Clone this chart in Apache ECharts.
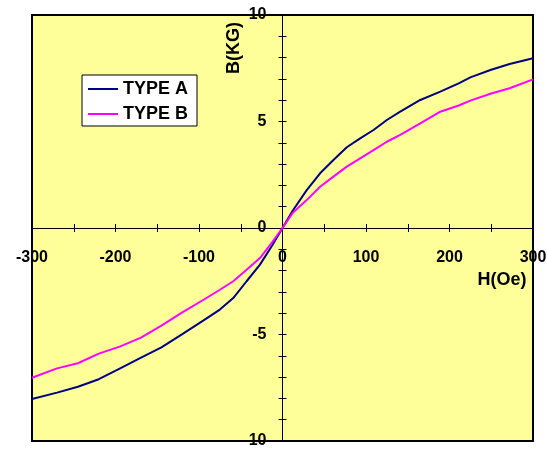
<!DOCTYPE html>
<html>
<head>
<meta charset="utf-8">
<script src="https://cdn.jsdelivr.net/npm/echarts@6/dist/echarts.min.js"></script>
<style>html,body{margin:0;padding:0;background:#fff}#c{width:547px;height:450px}</style>
</head>
<body>
<div id="c"></div>
<script>
var hValues = [-300,-270,-245,-220,-195,-170,-145,-120,-95,-75,-59,-43,-27,-12,0,12,29,45,61,77,93,109,125,141,165,189,211,225,249,272,300];
var typeA = [-8.03,-7.73,-7.45,-7.1,-6.6,-6.1,-5.6,-4.98,-4.35,-3.83,-3.29,-2.5,-1.72,-0.8,0,0.8,1.78,2.57,3.19,3.79,4.21,4.6,5.07,5.46,6.01,6.4,6.79,7.07,7.42,7.7,7.97];
var typeB = [-7.03,-6.59,-6.35,-5.9,-5.57,-5.16,-4.58,-3.96,-3.38,-2.9,-2.5,-1.96,-1.41,-0.65,0,0.7,1.31,1.94,2.41,2.88,3.27,3.66,4.05,4.37,4.91,5.46,5.75,5.98,6.3,6.56,6.98];
var seriesNames = ['TYPE A','TYPE B'];
var xTickLabels = [-300,-200,-100,0,100,200,300];
var yTickLabels = [-10,-5,0,5,10];

var FONT = 'Liberation Sans, Arial, sans-serif';
var GL = 32, GT = 15, GW = 501, GH = 426;
function pairs(ys){ return hValues.map(function(h,i){ return [h, ys[i]]; }); }

// axes sit at the centre of the plot (where the other axis is 0, since ranges are symmetric)
function xAxisDef(g, inside, showLabel){
  return {
    gridIndex:g, type:'value', min:-300, max:300, interval:50, position:'bottom', offset:-GH/2,
    axisLine:{show:true, onZero:false, lineStyle:{color:'#000', width:1}},
    axisTick:{show:true, inside:inside, length:4, lineStyle:{color:'#000', width:1}},
    splitLine:{show:false},
    axisLabel:{show:showLabel, margin:22, color:'#000', fontSize:16, fontWeight:'bold', fontFamily:FONT,
      formatter:function(v){ return xTickLabels.indexOf(v) >= 0 ? String(v) : ''; }}
  };
}
function yAxisDef(g, inside, showLabel){
  return {
    gridIndex:g, type:'value', min:-10, max:10, interval:1, position:'left', offset:-GW/2,
    axisLine:{show:true, onZero:false, lineStyle:{color:'#000', width:1}},
    axisTick:{show:true, inside:inside, length:4, lineStyle:{color:'#000', width:1}},
    splitLine:{show:false},
    axisLabel:{show:showLabel, margin:16, color:'#000', fontSize:16, fontWeight:'bold', fontFamily:FONT,
      formatter:function(v){ return yTickLabels.indexOf(v) >= 0 ? String(v) : ''; }}
  };
}
function grid(extra){ return Object.assign({left:GL, top:GT, width:GW, height:GH, containLabel:false, outerBoundsMode:'none'}, extra); }

var chart = echarts.init(document.getElementById('c'), null, {renderer:'canvas'});
chart.setOption({
  animation:false,
  backgroundColor:'#fff',
  grid:[
    grid({show:true, backgroundColor:'#FFFF99', borderColor:'#000', borderWidth:2}),
    grid({show:false})
  ],
  xAxis:[xAxisDef(0,false,true), xAxisDef(1,true,false)],
  yAxis:[yAxisDef(0,false,true), yAxisDef(1,true,false)],
  legend:{
    orient:'vertical', left:82, top:75,
    backgroundColor:'#fff', borderColor:'#000', borderWidth:1,
    padding:[4,9,2,6], itemGap:5, itemWidth:30, itemHeight:2, icon:'rect',
    textStyle:{color:'#000', fontSize:18, fontWeight:'bold', fontFamily:FONT, lineHeight:20},
    data:seriesNames
  },
  graphic:[
    {type:'text', x:234, y:48, rotation:Math.PI/2, style:{text:'B(KG)', fill:'#000', font:'bold 18px '+FONT, align:'center', verticalAlign:'middle'}},
    {type:'text', x:502, y:280, style:{text:'H(Oe)', fill:'#000', font:'bold 18px '+FONT, align:'center', verticalAlign:'middle'}}
  ],
  series:[
    {name:seriesNames[0], type:'line', xAxisIndex:0, yAxisIndex:0, data:pairs(typeA), symbol:'none', lineStyle:{color:'#000080', width:2}, itemStyle:{color:'#000080'}},
    {name:seriesNames[1], type:'line', xAxisIndex:0, yAxisIndex:0, data:pairs(typeB), symbol:'none', lineStyle:{color:'#FF00FF', width:2}, itemStyle:{color:'#FF00FF'}}
  ]
});
</script>
</body>
</html>
